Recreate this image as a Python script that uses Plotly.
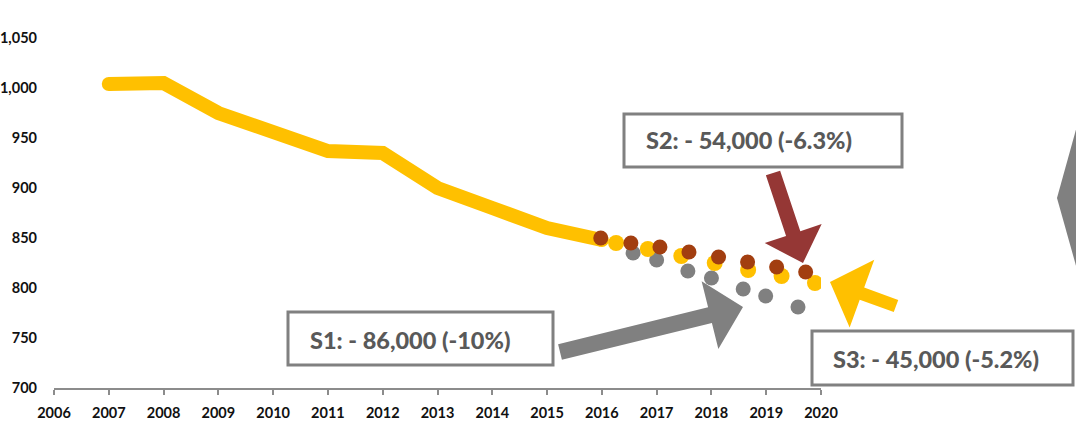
import plotly.graph_objects as go
import math

# ---------------- data ----------------
hist_years = [2007, 2008, 2009, 2010, 2011, 2012, 2013, 2014, 2015, 2016]
hist_vals = [1004, 1005, 975, 956, 937, 935, 900, 880, 860, 848]

s1_x = [2016.57, 2017.00, 2017.57, 2018.00, 2018.58, 2018.99, 2019.58]
s1_y = [835, 828, 817, 810, 799, 792, 781]

s3_x = [2016.26, 2016.84, 2017.45, 2018.06, 2018.67, 2019.28, 2019.89]
s3_y = [845, 839, 832, 825, 818, 812, 805]

s2_x = [2015.98, 2016.53, 2017.06, 2017.59, 2018.13, 2018.66, 2019.19, 2019.72]
s2_y = [850, 845, 841, 836, 831, 826, 821, 816]

x_ticks = list(range(2006, 2021))
y_ticks = [700, 750, 800, 850, 900, 950, 1000, 1050]

labels = {
    "S1": "S1: - 86,000 (-10%)",
    "S2": "S2: - 54,000 (-6.3%)",
    "S3": "S3: - 45,000 (-5.2%)",
}

YELLOW = "#FFC000"
GRAY = "#808080"
DARKRED = "#A23E10"
ARROW_RED = "#953735"
TEXT = "#595959"

W, H = 1076, 424
L, R, T, B = 54, 821, 0, 388  # plot-area pixel bounds


def px(x):
    return (x - L) / (R - L)


def py(y):
    return (B - y) / (B - T)


def poly_path(points):
    s = "M " + " L ".join(f"{px(x):.5f},{py(y):.5f}" for x, y in points) + " Z"
    return s


def arrow(tail, tip, shaft_w, head_len, head_w):
    tx, ty = tail
    hx, hy = tip
    dx, dy = hx - tx, hy - ty
    ln = math.hypot(dx, dy)
    ux, uy = dx / ln, dy / ln
    nx, ny = -uy, ux
    bx, by = hx - ux * head_len, hy - uy * head_len
    sw, hw = shaft_w / 2, head_w / 2
    pts = [
        (tx + nx * sw, ty + ny * sw),
        (bx + nx * sw, by + ny * sw),
        (bx + nx * hw, by + ny * hw),
        (hx, hy),
        (bx - nx * hw, by - ny * hw),
        (bx - nx * sw, by - ny * sw),
        (tx - nx * sw, ty - ny * sw),
    ]
    return poly_path(pts)


fig = go.Figure()

fig.add_trace(go.Scatter(
    x=hist_years, y=hist_vals, mode="lines",
    line=dict(color=YELLOW, width=14), hoverinfo="skip", showlegend=False,
))
fig.add_trace(go.Scatter(
    x=[hist_years[0], hist_years[-1]], y=[hist_vals[0], hist_vals[-1]], mode="markers",
    marker=dict(color=YELLOW, size=14, line=dict(width=0)), showlegend=False,
))
fig.add_trace(go.Scatter(
    x=s1_x, y=s1_y, mode="markers",
    marker=dict(color=GRAY, size=15, line=dict(width=0)), showlegend=False,
))
fig.add_trace(go.Scatter(
    x=s3_x, y=s3_y, mode="markers",
    marker=dict(color=YELLOW, size=16, line=dict(width=0)), showlegend=False,
))
fig.add_trace(go.Scatter(
    x=s2_x, y=s2_y, mode="markers",
    marker=dict(color=DARKRED, size=15, line=dict(width=0)), showlegend=False,
))

shapes = []
# boxes
for (x0, y0, x1, y1) in [(288, 312, 553, 365), (624, 114, 902, 167), (812, 331, 1073, 385)]:
    shapes.append(dict(type="rect", xref="paper", yref="paper",
                       x0=px(x0), x1=px(x1), y0=py(y1), y1=py(y0),
                       line=dict(color=GRAY, width=3), fillcolor="white", layer="above"))
# arrows
shapes.append(dict(type="path", xref="paper", yref="paper",
                   path=arrow((560, 352), (743, 307), 16, 34, 70),
                   fillcolor=GRAY, line=dict(width=0), layer="above"))
shapes.append(dict(type="path", xref="paper", yref="paper",
                   path=arrow((773, 173), (803, 263), 15, 31, 60),
                   fillcolor=ARROW_RED, line=dict(width=0), layer="above"))
shapes.append(dict(type="path", xref="paper", yref="paper",
                   path=arrow((896, 306), (830, 282), 13, 34, 72),
                   fillcolor=YELLOW, line=dict(width=0), layer="above"))
# partial shape at right edge
shapes.append(dict(type="path", xref="paper", yref="paper",
                   path=poly_path([(1080, 115), (1057, 198), (1080, 280)]),
                   fillcolor=GRAY, line=dict(width=0), layer="above"))

annotations = []
for key, (xl, yc) in {"S1": (308, 340), "S2": (644, 140), "S3": (831, 359)}.items():
    annotations.append(dict(xref="paper", yref="paper", x=px(xl), y=py(yc),
                            xanchor="left", yanchor="middle", showarrow=False,
                            text=labels[key],
                            font=dict(family="Lato", size=23.5, color=TEXT, weight=900)))

fig.update_layout(
    width=W, height=H,
    margin=dict(l=L, r=W - R, t=T, b=H - B),
    paper_bgcolor="white", plot_bgcolor="white",
    shapes=shapes, annotations=annotations,
    xaxis=dict(range=[2006, 2020], tickvals=x_ticks, ticktext=[str(v) for v in x_ticks],
               showgrid=False, zeroline=False, showline=True, linecolor="#8C8C8C", linewidth=1.5,
               ticks="outside", ticklen=5, tickcolor="#8C8C8C", tickwidth=1.5,
               ticklabelstandoff=6,
               tickfont=dict(family="Lato", size=14.5, color="#111111", weight="bold")),
    yaxis=dict(range=[700, 1088], tickvals=y_ticks, tickformat=",",
               showgrid=False, zeroline=False, showline=False, ticks="",
               ticklabelstandoff=16,
               tickfont=dict(family="Lato", size=14.5, color="#111111", weight="bold")),
)

fig.write_html("out.html", config={"displayModeBar": False},
               post_script="document.body.style.margin='0';document.body.style.overflow='hidden';")
